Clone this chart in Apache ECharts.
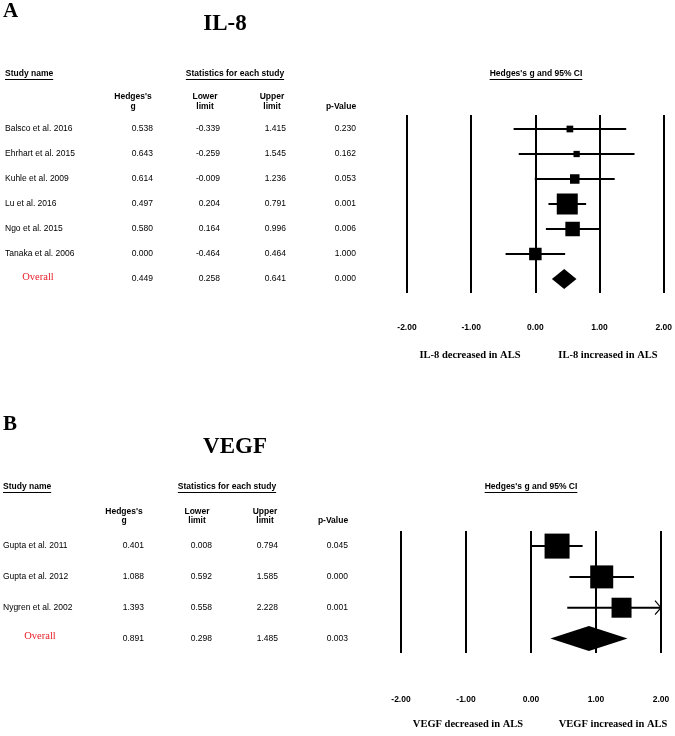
<!DOCTYPE html>
<html><head><meta charset="utf-8">
<script src="https://cdn.jsdelivr.net/npm/echarts@6/dist/echarts.min.js"></script>
<style>html,body{margin:0;padding:0;background:#fff}#c{width:675px;height:736px}</style>
</head><body><div id="c"></div>
<script>
// ---------- Panel A: IL-8 ----------
const studiesA = ['Balsco et al. 2016','Ehrhart et al. 2015','Kuhle et al. 2009','Lu et al. 2016','Ngo et al. 2015','Tanaka et al. 2006'];
const gA     = [0.538, 0.643, 0.614, 0.497, 0.580, 0.000];
const lowerA = [-0.339, -0.259, -0.009, 0.204, 0.164, -0.464];
const upperA = [1.415, 1.545, 1.236, 0.791, 0.996, 0.464];
const pA     = [0.230, 0.162, 0.053, 0.001, 0.006, 1.000];
const weightA = [4.6, 4.0, 9.2, 44.9, 21.4, 15.9];   // relative weights
const overallA = [0.449, 0.258, 0.641, 0.000];      // g, lower, upper, p

// ---------- Panel B: VEGF ----------
const studiesB = ['Gupta et al. 2011','Gupta et al. 2012','Nygren et al. 2002'];
const gB     = [0.401, 1.088, 1.393];
const lowerB = [0.008, 0.592, 0.558];
const upperB = [0.794, 1.585, 2.228];
const pB     = [0.045, 0.000, 0.001];
const weightB = [40.2, 34.0, 25.7];
const overallB = [0.891, 0.298, 1.485, 0.003];

const xTicks = [-2, -1, 0, 1, 2];

const SANS = 'Liberation Sans, Arial, sans-serif';
const SERIF = 'Liberation Serif, Times New Roman, serif';
const RED = '#e8202a';

const ctx = document.createElement('canvas').getContext('2d');
function tw(text, font) { ctx.font = font; return ctx.measureText(text).width; }

function buildData(g, lo, hi, w, ov) {
  const d = g.map((v, i) => [v, i, lo[i], hi[i], w[i], 0]);
  d.push([ov[0], g.length, ov[1], ov[2], 0, 1]);
  return d;
}

function forestRender(weights, maxBox, diamondH) {
  const wmax = Math.max.apply(null, weights);
  return function (params, api) {
    const g = api.value(0), row = api.value(1), lo = api.value(2), hi = api.value(3), w = api.value(4), ov = api.value(5);
    const c = api.coord([g, row]);
    const xmin = api.coord([-2, row])[0], xmax = api.coord([2, row])[0];
    const xl = api.coord([lo, row])[0], xu = api.coord([hi, row])[0];
    const children = [];
    if (ov) {
      children.push({type: 'polygon', shape: {points: [[xl, c[1]], [c[0], c[1] - diamondH / 2], [xu, c[1]], [c[0], c[1] + diamondH / 2]]},
        style: {fill: '#000'}});
    } else {
      const a = Math.max(xl, xmin), b = Math.min(xu, xmax);
      children.push({type: 'line', shape: {x1: a, y1: c[1], x2: b, y2: c[1]}, style: {stroke: '#000', lineWidth: 2}});
      if (hi > 2) {
        children.push({type: 'polyline', shape: {points: [[b - 6, c[1] - 7], [b, c[1]], [b - 6, c[1] + 7]]}, style: {stroke: '#000', fill: null, lineWidth: 1.2}});
      }
      if (lo < -2) {
        children.push({type: 'polyline', shape: {points: [[a + 6, c[1] - 7], [a, c[1]], [a + 6, c[1] + 7]]}, style: {stroke: '#000', fill: null, lineWidth: 1.2}});
      }
      const s = maxBox * Math.sqrt(w / wmax);
      children.push({type: 'rect', shape: {x: c[0] - s / 2, y: c[1] - s / 2, width: s, height: s}, style: {fill: '#000'}});
    }
    return {type: 'group', children: children};
  };
}

function tableRender(names, g, lo, hi, p, ov, cols) {
  return function (params, api) {
    const i = params.dataIndex;
    const y = api.coord([0, api.value(1)])[1];
    const isOv = i >= names.length;
    const vals = isOv ? ov : [g[i], lo[i], hi[i], p[i]];
    const children = [];
    if (isOv) {
      children.push({type: 'text', x: cols.ovX, y: y - 2, style: {text: 'Overall', font: '10.5px ' + SERIF, fill: RED,
        align: 'center', verticalAlign: 'middle', textAlign: 'center', textVerticalAlign: 'middle'}});
    } else {
      children.push({type: 'text', x: cols.name, y: y, style: {text: names[i], font: '8.5px ' + SANS, fill: '#000',
        align: 'left', verticalAlign: 'middle', textAlign: 'left', textVerticalAlign: 'middle'}});
    }
    cols.nums.forEach((cx, k) => {
      children.push({type: 'text', x: cx, y: y, style: {text: vals[k].toFixed(3), font: '8.5px ' + SANS, fill: '#000',
        align: 'right', verticalAlign: 'middle', textAlign: 'right', textVerticalAlign: 'middle'}});
    });
    return {type: 'group', children: children};
  };
}

function txt(text, x, y, font, align, fill) {
  return {type: 'text', x: x, y: y, silent: true,
    style: {text: text, font: font, fill: fill || '#000', align: align, verticalAlign: 'middle', textAlign: align, textVerticalAlign: 'middle'}};
}
function underlined(text, x, y, align) {
  const font = 'bold 8.5px ' + SANS;
  const w = tw(text, font);
  const x0 = align === 'center' ? x - w / 2 : x;
  return [txt(text, x, y, font, align),
    {type: 'line', silent: true, shape: {x1: x0, y1: y + 5.5, x2: x0 + w, y2: y + 5.5}, style: {stroke: '#000', lineWidth: 1}}];
}

function panelHeaders(h) {
  const hb = 'bold 8.5px ' + SANS;
  let els = [];
  els.push(txt(h.letter, 3, h.letterY, 'bold 21px ' + SERIF, 'left'));
  els.push(txt(h.title, h.titleX, h.titleY, 'bold 23px ' + SERIF, 'center'));
  els = els.concat(underlined('Study name', h.nameX, h.headY, 'left'));
  els = els.concat(underlined('Statistics for each study', h.statX, h.headY, 'center'));
  els = els.concat(underlined("Hedges's g and 95% CI", h.ciX, h.headY, 'center'));
  els.push(txt("Hedges's", h.colC[0], h.colY1, hb, 'center'));
  els.push(txt('g', h.colC[0], h.colY2, hb, 'center'));
  els.push(txt('Lower', h.colC[1], h.colY1, hb, 'center'));
  els.push(txt('limit', h.colC[1], h.colY2, hb, 'center'));
  els.push(txt('Upper', h.colC[2], h.colY1, hb, 'center'));
  els.push(txt('limit', h.colC[2], h.colY2, hb, 'center'));
  els.push(txt('p-Value', h.colC[3], h.colY2, hb, 'center'));
  els.push(txt(h.left, h.leftX, h.bottomY, 'bold 10.5px ' + SERIF, 'center'));
  els.push(txt(h.right, h.rightX, h.bottomY, 'bold 10.5px ' + SERIF, 'center'));
  return els;
}

const graphics = [].concat(
  panelHeaders({letter: 'A', letterY: 12, title: 'IL-8', titleX: 225, titleY: 24, nameX: 5, statX: 235, ciX: 536, headY: 74,
    colC: [133, 205, 272, 341], colY1: 97, colY2: 107, left: 'IL-8 decreased in ALS', leftX: 470, right: 'IL-8 increased in ALS', rightX: 608, bottomY: 355}),
  panelHeaders({letter: 'B', letterY: 425, title: 'VEGF', titleX: 235, titleY: 447, nameX: 3, statX: 227, ciX: 531, headY: 487,
    colC: [124, 197, 265, 333], colY1: 512, colY2: 521, left: 'VEGF decreased in ALS', leftX: 468, right: 'VEGF increased in ALS', rightX: 613, bottomY: 724})
);

function xAxisFor(gridIndex, margin) {
  return {type: 'value', gridIndex: gridIndex, min: xTicks[0], max: xTicks[xTicks.length - 1], interval: 1,
    axisLine: {show: false}, axisTick: {show: false},
    splitLine: {show: true, showMinLine: true, showMaxLine: true, lineStyle: {color: '#000', width: 2}},
    axisLabel: {margin: margin, color: '#000', fontSize: 8.5, fontWeight: 'bold', fontFamily: SANS, formatter: v => v.toFixed(2)}};
}

const dataA = buildData(gA, lowerA, upperA, weightA, overallA);
const dataB = buildData(gB, lowerB, upperB, weightB, overallB);

const option = {
  backgroundColor: '#fff',
  animation: false,
  grid: [
    {left: 407, width: 259, top: 115, height: 178},
    {left: 401, width: 260, top: 531, height: 122}
  ],
  xAxis: [xAxisFor(0, 30), xAxisFor(1, 42)],
  yAxis: [
    {type: 'value', gridIndex: 0, inverse: true, min: -0.56, max: 6.56, show: false},
    {type: 'value', gridIndex: 1, inverse: true, min: -0.49, max: 3.47, show: false}
  ],
  graphic: {elements: graphics},
  series: [
    {type: 'custom', xAxisIndex: 0, yAxisIndex: 0, data: dataA, encode: {x: 0, y: 1}, clip: false,
      renderItem: forestRender(weightA, 21, 20)},
    {type: 'custom', xAxisIndex: 0, yAxisIndex: 0, data: dataA, encode: {x: 0, y: 1}, clip: false,
      renderItem: tableRender(studiesA, gA, lowerA, upperA, pA, overallA, {name: 5, ovX: 38, nums: [153, 220, 286, 356]})},
    {type: 'custom', xAxisIndex: 1, yAxisIndex: 1, data: dataB, encode: {x: 0, y: 1}, clip: false,
      renderItem: forestRender(weightB, 25, 25)},
    {type: 'custom', xAxisIndex: 1, yAxisIndex: 1, data: dataB, encode: {x: 0, y: 1}, clip: false,
      renderItem: tableRender(studiesB, gB, lowerB, upperB, pB, overallB, {name: 3, ovX: 40, nums: [144, 212, 278, 348]})}
  ]
};

const chart = echarts.init(document.getElementById('c'), null, {renderer: 'canvas'});
chart.setOption(option);
</script>
</body></html>
